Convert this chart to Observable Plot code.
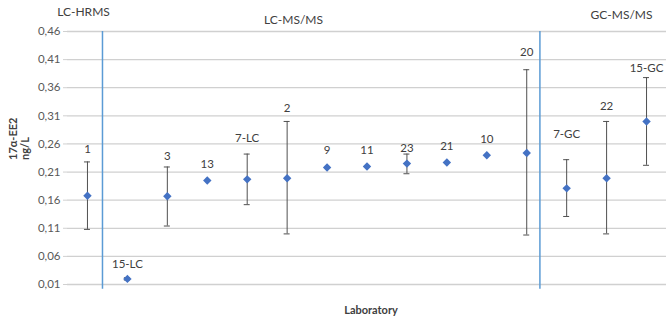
<!DOCTYPE html>
<html>
<head>
<meta charset="utf-8">
<script src="https://cdn.jsdelivr.net/npm/d3@7"></script>
<script src="https://cdn.jsdelivr.net/npm/@observablehq/plot@0.6"></script>
<style>
  html, body { margin: 0; padding: 0; background: #fff; }
  #chart svg { display: block; }
</style>
</head>
<body>
<div id="chart"></div>
<script>
// Laboratories in plotting order
const labs = ["1", "15-LC", "3", "13", "7-LC", "2", "9", "11", "23", "21", "10", "20", "7-GC", "22", "15-GC"];
// Mean 17α-EE2 concentration (ng/L)
const means = [0.168, 0.020, 0.167, 0.195, 0.197, 0.199, 0.218, 0.220, 0.225, 0.227, 0.240, 0.244, 0.181, 0.199, 0.300];
// Error bar ends (null = no bar)
const lows  = [0.108, 0.018, 0.114, null, 0.152, 0.100, null, null, 0.207, null, null, 0.098, 0.131, 0.100, 0.222];
const highs = [0.228, 0.022, 0.219, null, 0.242, 0.300, null, null, 0.242, null, null, 0.392, 0.232, 0.300, 0.378];
// Data-label heights (ng/L) as placed in the original chart
const labelY = [0.250, 0.0456, 0.238, 0.2235, 0.270, 0.3226, 0.248, 0.248, 0.253, 0.2555, 0.268, 0.423, 0.277, 0.327, 0.395];
// Method group dividers (position along laboratory index)
const dividers = [0.376, 11.33];
const groups = ["LC-HRMS", "LC-MS/MS", "GC-MS/MS"];
const yTicks = [0.01, 0.06, 0.11, 0.16, 0.21, 0.26, 0.31, 0.36, 0.41, 0.46];

const rows = labs.map((lab, i) => ({i, lab, mean: means[i], low: lows[i], high: highs[i], ly: labelY[i]}));
const bars = rows.filter(d => d.low != null);
const capHalf = 0.075;

const font = "Lato, 'Open Sans', sans-serif";
const txt = "#404040";
const fmt = d => d.toFixed(2).replace(".", ",");

const chart = Plot.plot({
  width: 666,
  height: 323,
  marginLeft: 67,
  marginRight: 0,
  marginTop: 31,
  marginBottom: 39,
  style: {fontFamily: font, fontSize: "11.5px", color: txt, background: "#fff"},
  x: {domain: [-0.5, 14.5], axis: null},
  y: {domain: [0.01, 0.46], ticks: yTicks, tickFormat: fmt, label: null},
  marks: [
    Plot.ruleY(yTicks, {stroke: "#d0d0d0", strokeWidth: 1.3}),
    Plot.axisY({ticks: yTicks, tickFormat: fmt, tickSize: 4, tickPadding: 3, stroke: "#d0d0d0", fill: "#595959", fontSize: 11.5, label: null}),
    Plot.ruleX(dividers, {x: d => d, y1: 0.46, y2: 0.0016, stroke: "#5B9BD5", strokeWidth: 1.5}),
    Plot.ruleX(bars, {x: "i", y1: "low", y2: "high", stroke: "#505050", strokeWidth: 1}),
    Plot.ruleY(bars, {y: "low", x1: d => d.i - capHalf, x2: d => d.i + capHalf, stroke: "#505050", strokeWidth: 1}),
    Plot.ruleY(bars, {y: "high", x1: d => d.i - capHalf, x2: d => d.i + capHalf, stroke: "#505050", strokeWidth: 1}),
    Plot.dot(rows, {x: "i", y: "mean", symbol: "diamond2", r: 3.8, fill: "#4472C4", stroke: null}),
    Plot.text(rows, {x: "i", y: "ly", text: "lab", fill: txt, fontSize: 11.5}),
    Plot.text([groups[0]], {frameAnchor: "top-left", textAnchor: "middle", lineAnchor: "middle", dx: 16, dy: -19, text: d => d, fill: txt, fontSize: 12}),
    Plot.text([groups[1]], {frameAnchor: "top-left", textAnchor: "middle", lineAnchor: "middle", dx: 226, dy: -11, text: d => d, fill: txt, fontSize: 12}),
    Plot.text([groups[2]], {frameAnchor: "top-left", textAnchor: "middle", lineAnchor: "middle", dx: 554, dy: -16, text: d => d, fill: txt, fontSize: 12}),
    Plot.text(["17α-EE2\nng/L"], {frameAnchor: "left", dx: -48, dy: 2, rotate: -90, text: d => d, fill: txt, fontWeight: "bold", fontSize: 11, lineHeight: 1.05}),
    Plot.text(["Laboratory"], {frameAnchor: "bottom", dx: 4, dy: 29, text: d => d, fill: txt, fontWeight: "bold", fontSize: 11})
  ]
});
document.getElementById("chart").appendChild(chart);
</script>
</body>
</html>
